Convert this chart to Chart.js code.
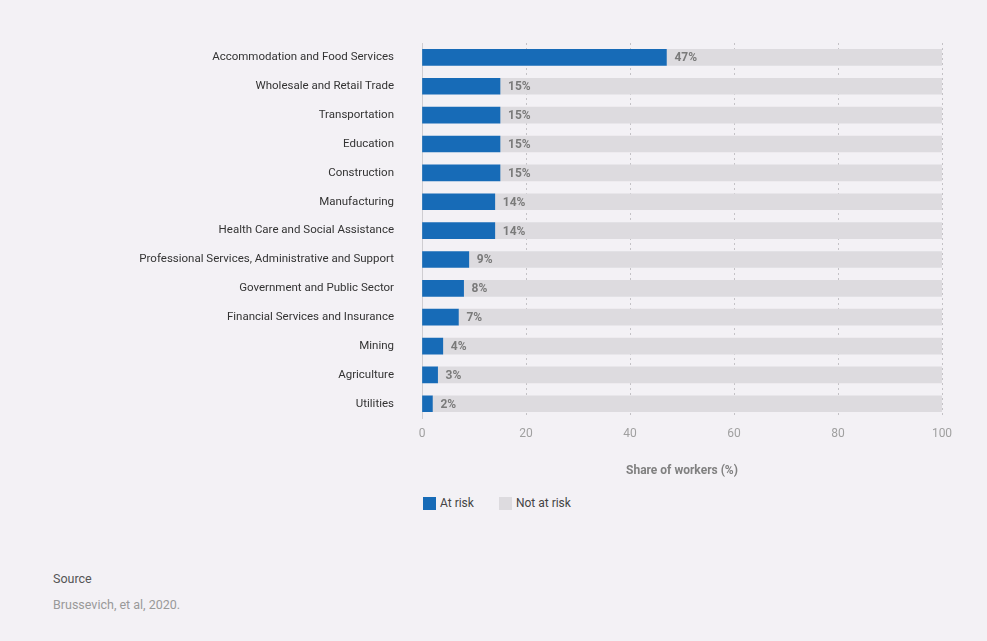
<!DOCTYPE html>
<html>
<head>
<meta charset="utf-8">
<script src="https://cdn.jsdelivr.net/npm/chart.js@4.4.1/dist/chart.umd.min.js"></script>
<style>
  html, body { margin: 0; padding: 0; background: #f3f1f5; }
  body { width: 987px; height: 641px; position: relative; overflow: hidden; font-family: "Roboto", sans-serif; }
  #wrap { position: absolute; left: 0; top: 0; width: 987px; height: 490px; }
  #legend { position: absolute; left: 423px; top: 496px; font-size: 12px; color: #444; display: flex; }
  .item { display: flex; align-items: center; margin-right: 25px; }
  .box { width: 13px; height: 13px; margin-right: 4px; }
  .src-title { position: absolute; left: 53px; top: 571px; font-size: 12.5px; color: #555; }
  .src-text { position: absolute; left: 53px; top: 597px; font-size: 12.5px; color: #999; }
</style>
</head>
<body>
<div id="wrap"><canvas id="chart"></canvas></div>
<div id="legend"></div>
<div class="src-title">Source</div>
<div class="src-text">Brussevich, et al, 2020.</div>
<script>
// Données
const sectors = [
    "Accommodation and Food Services",
    "Wholesale and Retail Trade",
    "Transportation",
    "Education",
    "Construction",
    "Manufacturing",
    "Health Care and Social Assistance",
    "Professional Services, Administrative and Support",
    "Government and Public Sector",
    "Financial Services and Insurance",
    "Mining",
    "Agriculture",
    "Utilities"
];
const atRisk = [47, 15, 15, 15, 15, 14, 14, 9, 8, 7, 4, 3, 2];
const notAtRisk = [53, 85, 85, 85, 85, 86, 86, 91, 92, 93, 96, 97, 98];
const xTicks = [0, 20, 40, 60, 80, 100];

const FONT = "'Roboto', sans-serif";

// Étiquettes "47%" à la fin des barres bleues
const valueLabels = {
    id: "valueLabels",
    afterDatasetsDraw(chart) {
        const ctx = chart.ctx;
        const meta = chart.getDatasetMeta(0);
        ctx.save();
        ctx.font = "bold 12px " + FONT;
        ctx.fillStyle = "#7a7a7a";
        ctx.textAlign = "left";
        ctx.textBaseline = "middle";
        meta.data.forEach((bar, i) => {
            ctx.fillText(atRisk[i] + "%", bar.x + 8, bar.y + 1);
        });
        ctx.restore();
    }
};

const chart = new Chart(document.getElementById("chart"), {
    type: "bar",
    data: {
        labels: sectors,
        datasets: [
            { label: "At risk", data: atRisk, backgroundColor: "#176bb7", barThickness: 16 },
            { label: "Not at risk", data: notAtRisk, backgroundColor: "#dddbdf", barThickness: 16 }
        ]
    },
    options: {
        indexAxis: "y",
        responsive: true,
        maintainAspectRatio: false,
        animation: false,
        layout: { padding: { top: 43, right: 45, bottom: 0, left: 0 } },
        scales: {
            x: {
                stacked: true,
                min: 0,
                max: 100,
                z: 1,
                afterBuildTicks: scale => { scale.ticks = xTicks.map(v => ({ value: v })); },
                grid: { color: "#c4c2c6", drawTicks: false, tickLength: 0 },
                border: { display: false, dash: [2, 3] },
                ticks: { color: "#a0a0a0", padding: 9, font: { family: FONT, size: 12 } },
                title: {
                    display: true,
                    text: "Share of workers (%)",
                    color: "#808080",
                    font: { family: FONT, size: 12, weight: "bold" },
                    padding: { top: 13, bottom: 12 }
                }
            },
            y: {
                stacked: true,
                afterFit: scale => { scale.width = 422; },
                grid: { display: false },
                border: { color: "#cfcdd1" },
                ticks: { color: "#333", padding: 20, font: { family: FONT, size: 11.5 } }
            }
        },
        plugins: {
            legend: { display: false },
            tooltip: { enabled: false }
        }
    },
    plugins: [valueLabels]
});

// Légende HTML
const legend = document.getElementById("legend");
chart.data.datasets.forEach(ds => {
    legend.innerHTML += `
        <div class="item"><div class="box" style="background:${ds.backgroundColor}"></div>${ds.label}</div>
    `;
});
</script>
</body>
</html>
